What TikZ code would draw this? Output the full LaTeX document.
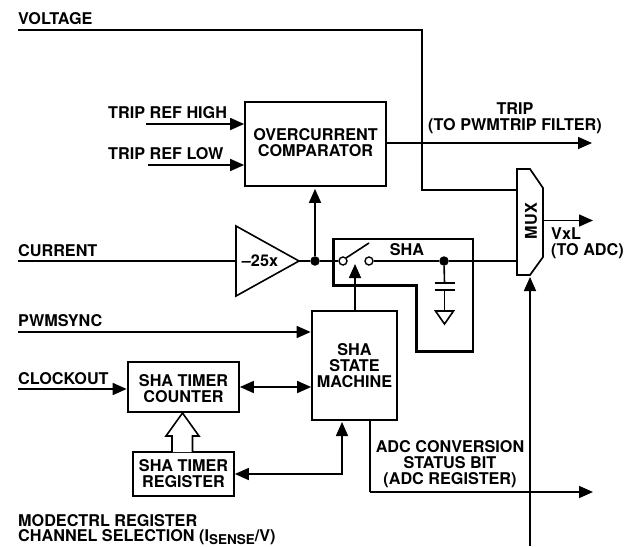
\documentclass[tikz,border=0pt]{standalone}
\usepackage{fontspec}
\setmainfont{TeX Gyre Heros}
\usetikzlibrary{arrows.meta,calc}
\tikzset{
  every node/.style={font=\fontsize{16.2}{16}\selectfont\bfseries},
  lbl/.style={inner sep=0pt,anchor=base west},
  ctr/.style={inner sep=0pt,align=center},
  box/.style={draw,line width=1.7pt,inner sep=0pt,align=center,rectangle},
  wire/.style={line width=1.6pt},
  sig/.style={wire,-{Triangle[length=14pt,width=12pt]}},
  bisig/.style={wire,{Triangle[length=14pt,width=12pt]}-{Triangle[length=14pt,width=12pt]}},
  dot/.style={circle,fill=black,inner sep=0pt,minimum size=9.5pt},
  pin/.style={circle,draw,fill=white,line width=1.4pt,inner sep=0pt,minimum size=8pt},
}
\begin{document}
\begin{tikzpicture}[x=1pt,y=-1pt]
\useasboundingbox (0,0) rectangle (631,546);
% blocks
\node[box,minimum width=141pt,minimum height=84pt] (cmp) at (315.5,144) {OVERCURRENT\\COMPARATOR\\[-12pt]\mbox{}};
\node[box,minimum width=85pt,minimum height=109pt] (fsm) at (354.5,365.5) {SHA\\STATE\\MACHINE};
\node[box,minimum width=111pt,minimum height=50pt] (cnt) at (183.5,387) {SHA TIMER\\COUNTER\\[-19pt]\mbox{}};
\node[box,minimum width=101pt,minimum height=44pt] (reg) at (183.5,474) {SHA TIMER\\REGISTER};
% amplifier
\draw[line width=1.6pt] (236,226) coordinate (ampA) -- (299,261) coordinate (ampO) -- (236,296) coordinate (ampB) -- cycle;
\node[ctr] (gain) at (260,261) {–25x};
\coordinate (ampI) at (236,261);
% MUX
\draw[line width=1.7pt] (517,169) -- (530,169) -- (543,188) -- (543,257) -- (530,275) -- (517,275) -- cycle;
\node[ctr,rotate=90] (muxl) at (531,221) {MUX};
\coordinate (muxV) at (517,190);
\coordinate (muxS) at (517,261);
\coordinate (muxO) at (544,220.5);
\coordinate (muxB) at (530,275);
% SHA box
\draw[line width=2.3pt] (333.5,239) -- (473,239) -- (473,351.5) -- (416.5,351.5) -- (416.5,285.5) -- (333.5,285.5) -- cycle;
\node[ctr] (shal) at (407,250) {SHA};
% labels
\node[lbl] (lv) at (18,24) {VOLTAGE};
\node[lbl] (lh) at (108,118) {TRIP REF HIGH};
\node[lbl] (ll) at (108,159) {TRIP REF LOW};
\node[lbl] (lc) at (18,256) {CURRENT};
\node[lbl] (lp) at (18,326) {PWMSYNC};
\node[lbl] (lk) at (18,384) {CLOCKOUT};
\node[ctr] (ltrip) at (515,118) {TRIP\\(TO PWMTRIP FILTER)};
\node[inner sep=0pt,align=left,anchor=west] (lvx) at (551,243) {VxL\\(TO ADC)};
\node[ctr] (ladc) at (450,464) {ADC CONVERSION\\STATUS BIT\\(ADC REGISTER)};
\node[lbl] (lm) at (18,526) {MODECTRL REGISTER};
\node[lbl] (lcs) at (18,541) {CHANNEL SELECTION (I\raisebox{-3.5pt}{\fontsize{13.5}{13.5}\selectfont SENSE}/V)};
% free ends
\coordinate (vin) at (18,30);
\coordinate (vbend) at (422,30);
\coordinate (vdown) at (422,190);
\coordinate (hin) at (146,124);
\coordinate (lin) at (148,165);
\coordinate (tripout) at (592,143);
\coordinate (cin) at (18,261);
\coordinate (pin1) at (18,332);
\coordinate (kin) at (18,389);
\coordinate (vxout) at (593,220.5);
\coordinate (adcout) at (593,492);
\coordinate (modein) at (530,546);
\coordinate (adcb) at (370,492);
% junctions and switch
\node[dot] (j1) at (315,261) {};
\node[dot] (j2) at (444,261) {};
\node[pin] (s1) at (343,261) {};
\node[pin] (s2) at (369,261) {};
\coordinate (arm) at (369,243);
% connectors
\draw[wire] (vin) -- (vbend) -- (vdown) -- (muxV);
\draw[sig] (hin) -- (hin -| cmp.west);
\draw[sig] (lin) -- (lin -| cmp.west);
\draw[sig] (tripout -| cmp.east) -- (tripout);
\draw[wire] (cin) -- (ampI);
\draw[wire] (ampO) -- (j1) -- (s1);
\draw[sig,shorten >=2pt] (j1) -- (j1 |- cmp.south);
\draw[wire] (s1) ++(3,-3) -- (arm);
\draw[wire] (s2) -- (j2) -- (muxS);
\draw[sig] (muxO) -- (vxout);
\draw[sig] (355,311) -- (355,264);
\draw[sig,shorten >=0.5pt] (pin1) -- (pin1 -| fsm.west);
\draw[sig,shorten >=0.5pt] (kin) -- (kin -| cnt.west);
\draw[bisig] (cnt.east |- 0,387) -- (fsm.west |- 0,387);
\draw[bisig,shorten >=2pt] (reg.east) -- (342,474) -- (342,420);
\draw[wire] (370,420) -- (adcb);
\draw[sig] (adcb) -- (adcout);
\draw[sig,shorten >=2pt] (modein) -- (muxB);
% capacitor and ground
\coordinate (cap1) at (444.5,283);
\coordinate (cap2) at (444.5,290);
\coordinate (gnd) at (444.5,311);
\draw[wire] (j2) -- (cap1);
\draw[wire] (cap2) -- (gnd);
\draw[wire] ($(cap1)+(-10,0)$) -- ($(cap1)+(10,0)$);
\draw[wire] ($(cap2)+(-10,0)$) -- ($(cap2)+(10,0)$);
\draw[wire,line join=miter] ($(gnd)+(-9,0)$) -- ($(gnd)+(9,0)$) -- ($(gnd)+(0,13)$) -- cycle;
% hollow bus arrow
\draw[line width=1.6pt,fill=white] (172,452) -- (172,436) -- (166,436) -- (182.5,413) -- (199,436) -- (192.5,436) -- (192.5,452);
\end{tikzpicture}
\end{document}
